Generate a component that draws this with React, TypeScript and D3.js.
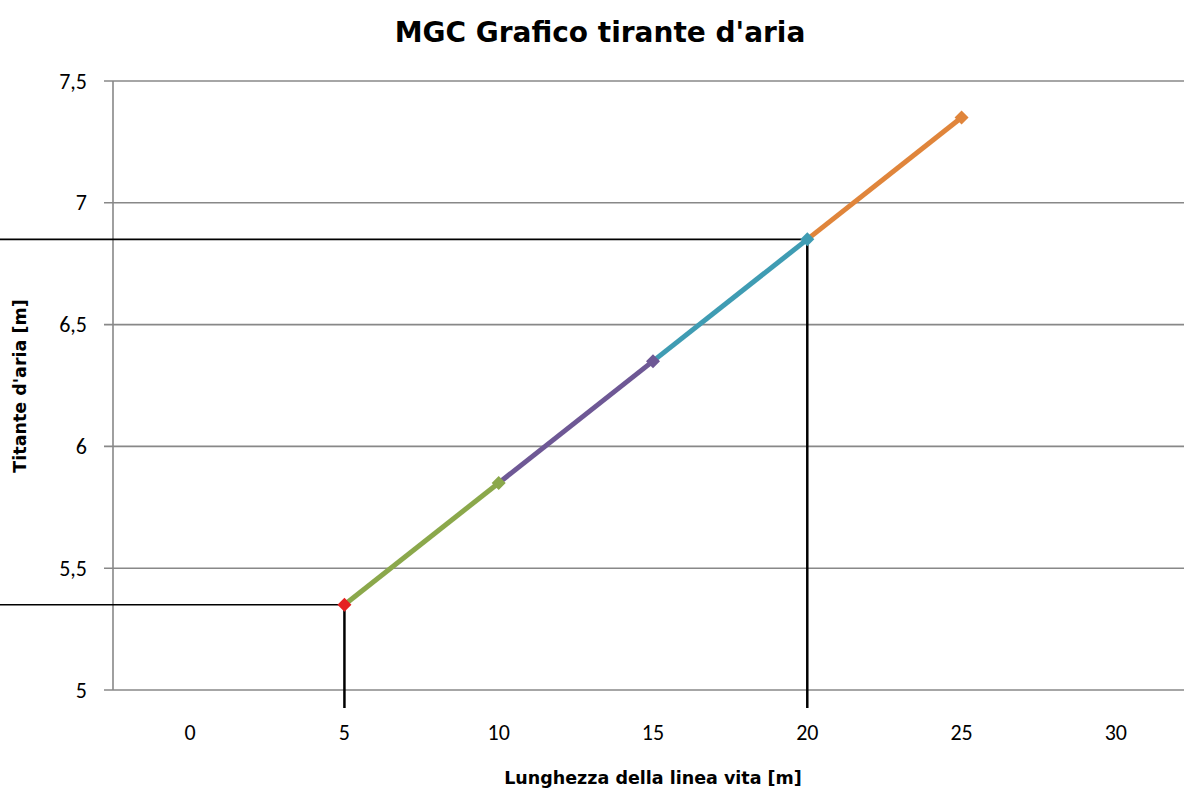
import React, { useEffect } from "react";
import * as d3 from "d3";

// dati
const lunghezza = [5, 10, 15, 20, 25];
const tirante = [5.35, 5.85, 6.35, 6.85, 7.35];
const coloriSegmenti = ["#8BA84B", "#6E5895", "#3F9CB3", "#E0853B"];
const coloriPunti = ["#E52222", "#8BA84B", "#6E5895", "#3F9CB3", "#E0853B"];
const guideX = [5, 20];
const guideY = [5.35, 6.85];
const xTicks = [0, 5, 10, 15, 20, 25, 30];
const yTicks = [5, 5.5, 6, 6.5, 7, 7.5];

const width = 1184;
const height = 792;
const left = 113;
const right = 1193;
const top = 81;
const bottom = 690;

const App = () => {
  useEffect(() => {
    document.documentElement.style.overflow = "hidden";
    document.body.style.overflow = "hidden";
    document.body.style.margin = "0";
  }, []);

  const x = d3.scaleLinear().domain([-2.5, 32.5]).range([left, right]);
  const y = d3.scaleLinear().domain([5, 7.5]).range([bottom, top]);
  const fmt = (v: number) => String(v).replace(".", ",");
  const font = "Carlito, 'Open Sans', 'Liberation Sans', sans-serif";
  const boldFont = "'DejaVu Sans', sans-serif";

  const pts = lunghezza.map((v, i) => [x(v), y(tirante[i])] as [number, number]);
  const diamond = (cx: number, cy: number, r: number) =>
    `M${cx},${cy - r}L${cx + r},${cy}L${cx},${cy + r}L${cx - r},${cy}Z`;

  return (
    <svg
      width={width}
      height={height}
      style={{ position: "fixed", left: 0, top: 0, display: "block" }}
    >
      <rect width={width} height={height} fill="#fff" />
      <text
        x={600}
        y={42}
        textAnchor="middle"
        fontFamily={boldFont}
        fontWeight="bold"
        fontSize={28}
        fill="#000"
      >
        MGC Grafico tirante d'aria
      </text>

      {/* griglia orizzontale */}
      {yTicks.map((t) => (
        <g key={t}>
          <line x1={left - 9} x2={right} y1={y(t)} y2={y(t)} stroke="#888" strokeWidth={1.6} />
          <text
            x={87}
            y={y(t) + 7.5}
            textAnchor="end"
            fontFamily={font}
            fontSize={22}
            fill="#000"
          >
            {fmt(t)}
          </text>
        </g>
      ))}
      <line x1={left} x2={left} y1={top} y2={bottom} stroke="#888" strokeWidth={1.6} />

      {xTicks.map((t) => (
        <text
          key={t}
          x={x(t)}
          y={740}
          textAnchor="middle"
          fontFamily={font}
          fontSize={22}
          fill="#000"
        >
          {t}
        </text>
      ))}

      {/* linee guida */}
      {guideX.map((g, i) => (
        <g key={g}>
          <line x1={0} x2={x(g)} y1={y(guideY[i])} y2={y(guideY[i])} stroke="#000" strokeWidth={1.6} />
          <line x1={x(g)} x2={x(g)} y1={y(guideY[i])} y2={bottom + 18} stroke="#000" strokeWidth={2.5} />
        </g>
      ))}

      {/* segmenti */}
      {coloriSegmenti.map((c, i) => (
        <line
          key={c}
          x1={pts[i][0]}
          y1={pts[i][1]}
          x2={pts[i + 1][0]}
          y2={pts[i + 1][1]}
          stroke={c}
          strokeWidth={5}
        />
      ))}
      {pts.map((p, i) => (
        <path key={i} d={diamond(p[0], p[1], 7)} fill={coloriPunti[i]} />
      ))}

      <text
        x={21}
        y={386}
        transform="rotate(-90 21 386)"
        textAnchor="middle"
        dominantBaseline="middle"
        fontFamily={boldFont}
        fontWeight="bold"
        fontSize={17.5}
        fill="#000"
      >
        Titante d'aria [m]
      </text>
      <text
        x={653}
        y={784}
        textAnchor="middle"
        fontFamily={boldFont}
        fontWeight="bold"
        fontSize={17.5}
        fill="#000"
      >
        Lunghezza della linea vita [m]
      </text>
    </svg>
  );
};

export default App;
